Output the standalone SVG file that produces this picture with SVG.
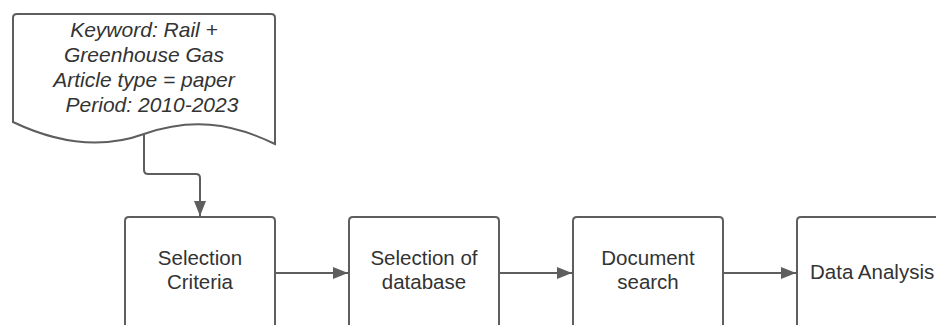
<svg xmlns="http://www.w3.org/2000/svg" width="936" height="325" viewBox="0 0 936 325">
<defs>
<style>
.shape{fill:#ffffff;stroke:#5e5e5e;stroke-width:2}
.line{fill:none;stroke:#5e5e5e;stroke-width:2}
.t{font-family:"Liberation Sans",Arial,sans-serif;font-size:20.5px;fill:#333333;text-anchor:middle}
.i{font-style:italic;font-size:21px}
</style>
<marker id="arr" markerWidth="16" markerHeight="12" refX="15" refY="6" orient="auto" markerUnits="userSpaceOnUse">
<path d="M0,0 L15,6 L0,12 Z" fill="#5e5e5e"/>
</marker>
</defs>
<rect width="936" height="325" fill="#ffffff"/>
<g id="doc">
<path class="shape" d="M13,122 V18 Q13,14 17,14 H271 Q275,14 275,18 V144 C230,122 190,118 144,134 C100,150 55,142 13,122 Z"/>
<text class="t i" x="144" y="37">Keyword: Rail +</text>
<text class="t i" x="144" y="62">Greenhouse Gas</text>
<text class="t i" x="144" y="87">Article type = paper</text>
<text class="t i" x="152" y="112">Period: 2010-2023</text>
</g>
<g id="connectors">
<path class="line" d="M144,135 V170 Q144,174 148,174 H196 Q200,174 200,178 V216" marker-end="url(#arr)"/>
<path class="line" d="M275,273 H348" marker-end="url(#arr)"/>
<path class="line" d="M499,273 H572" marker-end="url(#arr)"/>
<path class="line" d="M723,273 H796" marker-end="url(#arr)"/>
</g>
<g id="n1">
<path class="shape" d="M125,340 V221 Q125,217 129,217 H271 Q275,217 275,221 V340"/>
<text class="t" x="200" y="265">Selection</text>
<text class="t" x="200" y="289">Criteria</text>
</g>
<g id="n2">
<path class="shape" d="M349,340 V221 Q349,217 353,217 H495 Q499,217 499,221 V340"/>
<text class="t" x="424" y="265">Selection of</text>
<text class="t" x="424" y="289">database</text>
</g>
<g id="n3">
<path class="shape" d="M573,340 V221 Q573,217 577,217 H719 Q723,217 723,221 V340"/>
<text class="t" x="648" y="265">Document</text>
<text class="t" x="648" y="289">search</text>
</g>
<g id="n4">
<path class="shape" d="M797,340 V221 Q797,217 801,217 H943 Q947,217 947,221 V340"/>
<text class="t" x="810" y="279" style="text-anchor:start">Data Analysis</text>
</g>
</svg>
